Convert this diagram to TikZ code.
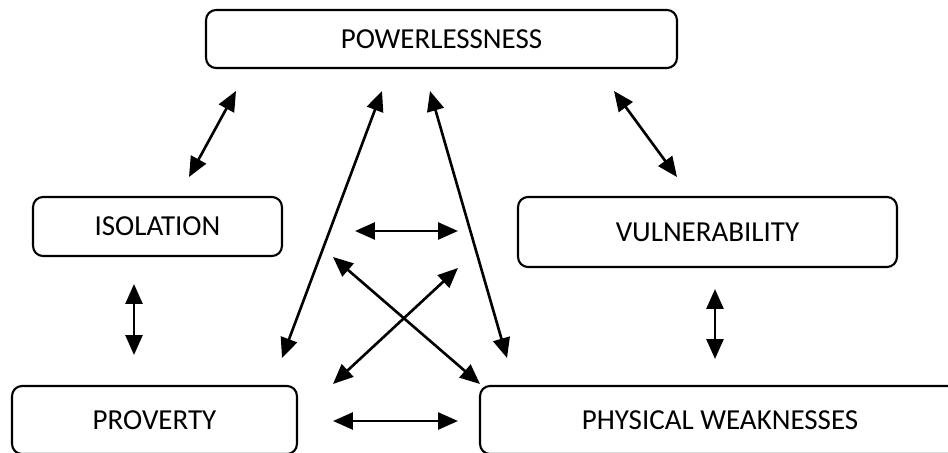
\documentclass[tikz,border=0pt]{standalone}
\usepackage{fontspec}
\setmainfont{Carlito}
\usetikzlibrary{arrows.meta}

\begin{document}
\begin{tikzpicture}[x=0.02cm, y=-0.02cm, line width=1.2pt,
		box/.style = {draw, rounded corners=0.2cm, align=center, inner sep=0pt, font=\fontsize{16.5}{20}\selectfont},
		link/.style = {line width=1.5pt, {Triangle[length=4mm, width=3.4mm]}-{Triangle[length=4mm, width=3.4mm]}}]

		\path[use as bounding box, clip] (0,0) rectangle (948,453);

		\node[box, minimum width=9.42cm, minimum height=1.16cm] (pow) at (441.5,39) {POWERLESSNESS};
		\node[box, minimum width=4.98cm, minimum height=1.18cm] (iso) at (157.5,226.5) {ISOLATION};
		\node[box, minimum width=7.58cm, minimum height=1.4cm] (vul) at (707.5,232) {VULNERABILITY};
		\node[box, minimum width=5.7cm, minimum height=1.36cm] (prov) at (154.5,420) {PROVERTY};
		\node[box, minimum width=9.6cm, minimum height=1.36cm] (phys) at (720,420) {PHYSICAL WEAKNESSES};

		% arrow ends
		\coordinate (isoA) at (189,177);  \coordinate (powA) at (236,91);
		\coordinate (vulA) at (677,177);  \coordinate (powB) at (614,91);
		\coordinate (provA) at (282,358); \coordinate (powC) at (382,91);
		\coordinate (physA) at (507,358); \coordinate (powD) at (430,91);
		\coordinate (isoB) at (134,284);  \coordinate (provB) at (134,355);
		\coordinate (vulB) at (715,289);  \coordinate (physB) at (715,359);
		\coordinate (midL) at (355,231);  \coordinate (midR) at (458,231);
		\coordinate (provC) at (333,421); \coordinate (physC) at (458,421);
		\coordinate (crossA) at (333,257); \coordinate (physD) at (480,384);
		\coordinate (crossB) at (458,268); \coordinate (provD) at (333,384);

		\draw[link] (isoA) to (powA);
		\draw[link] (vulA) to (powB);
		\draw[link] (provA) to (powC);
		\draw[link] (physA) to (powD);
		\draw[link] (isoB) to (provB);
		\draw[link] (vulB) to (physB);
		\draw[link] (midL) to (midR);
		\draw[link] (provC) to (physC);
		\draw[link] (crossA) to (physD);
		\draw[link] (crossB) to (provD);
	\end{tikzpicture}
\end{document}
